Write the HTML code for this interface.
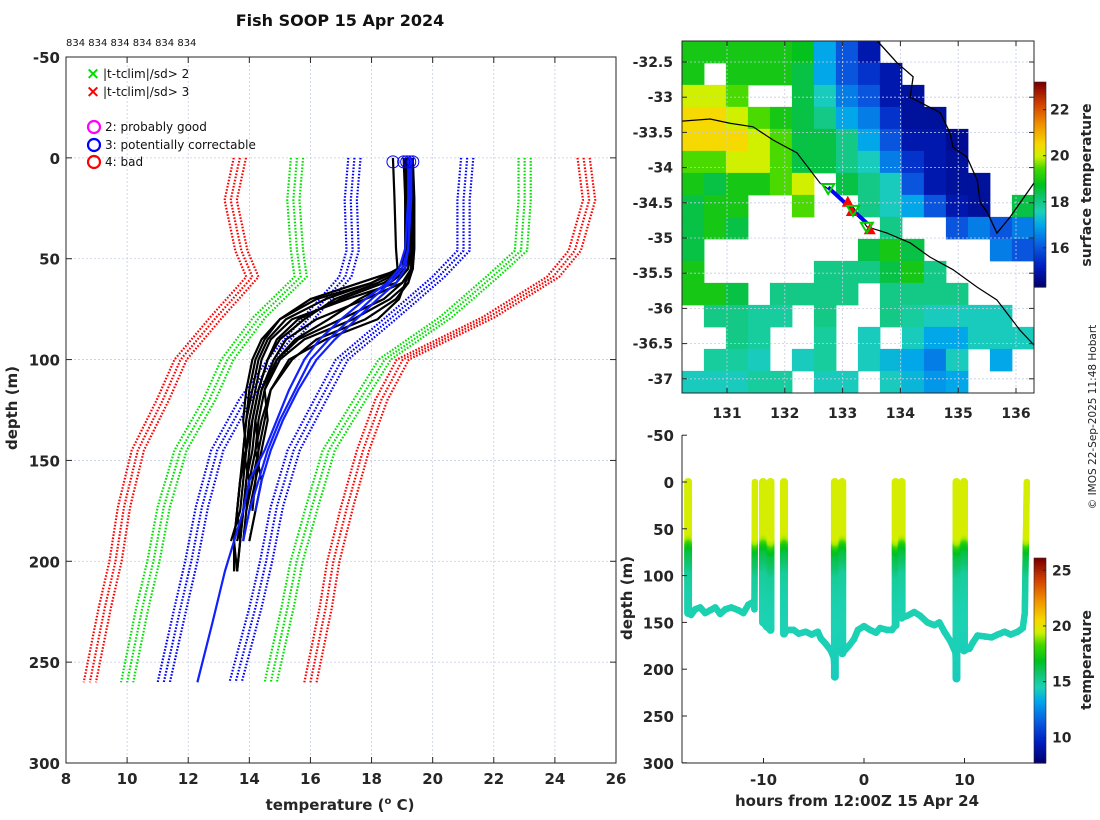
<!DOCTYPE html>
<html><head><meta charset="utf-8"><title>Fish SOOP 15 Apr 2024</title>
<style>
html,body{margin:0;padding:0;background:#fff;}
svg{display:block;font-family:"DejaVu Sans","Liberation Sans",sans-serif;}
.tick{font-size:15px;font-weight:bold;fill:#262626;}
.mtick{font-size:14px;font-weight:bold;fill:#262626;}
.lab{font-size:15px;font-weight:bold;fill:#262626;}
.leg{font-size:12px;fill:#111;}
</style></head>
<body>
<svg id="fig" width="1100" height="820" viewBox="0 0 1100 820" xmlns="http://www.w3.org/2000/svg">
<text x="340" y="26" text-anchor="middle" style="font-size:16px;font-weight:bold" fill="#111">Fish SOOP 15 Apr 2024</text>
<text x="66" y="46" style="font-size:10px" fill="#111">834 834 834 834 834 834</text>
<g id="left"></g>
<g id="map"></g>
<g id="ts"></g>
<text transform="translate(1096,417) rotate(-90)" text-anchor="middle" style="font-size:10.5px" fill="#222">© IMOS 22-Sep-2025 11:48 Hobart</text>
</svg>
<script>
const NS="http://www.w3.org/2000/svg";
// ---------- left plot data ----------
const climDepths=[0,21,46,59,79,100,120,145,173,200,223,260];
const climRedL=[13.69,13.39,13.74,14.10,12.92,11.75,11.17,10.35,9.9,9.62,9.27,8.78];
const climGreenL=[15.56,15.44,15.56,15.68,14.33,13.28,12.69,11.75,11.2,10.86,10.5,10.0];
const climBlueL=[17.44,17.32,17.38,17.14,15.97,14.80,13.86,12.95,12.45,12.1,11.75,11.2];
const climBlueR=[21.13,21.01,21.01,20.19,18.67,17.03,16.32,15.45,14.9,14.55,14.2,13.55];
const climGreenR=[23.01,23.01,22.89,21.95,20.43,18.43,17.61,16.6,16.05,15.55,15.25,14.7];
const climRedR=[24.94,25.12,24.65,23.94,21.83,19.02,18.32,17.72,17.2,16.75,16.5,16.0];
const climCopies=[-0.2,0,0.2];
const profDepths=[0,20,45,55,62,70,80,90,100,115,130,145,160,175,190,205,230,260];
const blackProfiles=[
[18.7,18.75,18.8,18.85,18.0,16.5,15.2,14.6,14.3,14.1,13.9,13.8,13.7,13.6,13.5,13.5],
[19.1,19.1,19.15,19.1,18.4,17.0,15.6,14.9,14.6,14.3,14.1,14.0,13.9,13.8,13.7,13.6],
[19.2,19.25,19.3,19.3,19.2,18.6,17.4,15.8,15.0,14.5,14.3,14.2,14.0,13.9,13.8],
[19.3,19.35,19.35,19.3,19.0,17.8,16.2,15.2,14.8,14.4,14.2,14.3,14.1,13.9],
[19.15,19.2,19.2,19.0,17.6,16.0,15.0,14.5,14.2,14.0,13.9,13.8,14.0,13.8,13.6],
[19.25,19.3,19.3,19.3,19.1,18.9,18.2,16.5,15.3,14.7,14.5,14.3,14.2,14.1],
[19.1,19.15,19.2,19.2,18.8,17.2,15.4,14.7,14.4,14.2,14.0,13.9,13.7,13.6,13.5,13.6],
[19.35,19.4,19.4,19.35,19.0,18.4,17.0,15.6,14.9,14.5,14.6,14.4,14.2,14.0],
[19.2,19.2,19.25,19.1,18.2,16.8,15.8,15.0,14.6,14.3,14.1,13.9,13.8,13.7,13.4],
[19.3,19.3,19.35,19.35,19.2,18.8,17.8,16.2,15.4,14.7,14.4,14.2,14.4,14.2,14.0],
[19.05,19.1,19.1,19.0,18.0,16.2,15.0,14.4,14.1,13.9,13.8,13.9,13.7,13.6,13.7,13.6],
[19.25,19.3,19.3,19.2,18.6,17.6,16.6,15.5,14.9,14.4,14.2,14.1,13.9,13.8,13.7]
];
const blueProfiles=[
[19.2,19.2,19.1,18.9,18.5,17.8,17.0,16.3,15.8,15.3,14.9,14.5,14.0,13.8,13.5,13.2,12.8,12.3],
[19.3,19.3,19.2,19.0,18.6,18.0,17.3,16.6,16.0,15.5,15.0,14.6,14.3,14.0,13.8],
[19.25,19.25,19.2,19.1,18.8,18.2,17.5,16.8,16.2,15.6,15.1,14.7,14.4,14.2]
];
const surfaceFlagTemps=[18.7,19.05,19.15,19.25,19.35];
const surfaceFlagDepth=2;
const tempTicks=[8,10,12,14,16,18,20,22,24,26];
const depthTicks=[-50,0,50,100,150,200,250,300];
// ---------- map data ----------
const sstGrid=[
[19,19,19,19,19,18.8,17,16,15,null,null,null,null,null,null,null],
[19,null,19,19,19,18.5,17,16,15.5,15,null,null,null,null,null,null],
[20,20,19.5,null,null,18.5,17.5,16.5,16,15,14.8,null,null,null,null,null],
[20.5,20.5,20,19.5,19,18.5,18,17,16.5,15.5,14.8,14.8,null,null,null,null],
[20.5,20.5,20.5,20,19.5,18.5,18.5,18,17,16,15,15,14.7,null,null,null],
[19.5,19.5,20,20,19.5,18.5,18.5,18,17.5,16.5,15.5,15,14.8,null,null,null],
[19,18.5,19,19,19.5,20,null,18.5,18,17.5,16,15,14.8,14.8,null,null],
[18.5,19,19,null,null,19.5,null,null,18,17.5,17,16,15,14.8,null,18.5],
[18.5,19,18.5,null,null,null,null,null,null,18,null,null,16,16.5,16,16.5],
[18.5,null,null,null,null,null,null,null,18.5,19,18.5,null,null,null,16.5,16],
[19,null,null,null,null,null,18,18,18,18.5,19,18,null,null,null,null],
[19,19,18.5,null,18,18,18,18,null,18,18,18,18,null,null,null],
[null,18,18,17.8,17.8,null,18,null,null,18,17.8,17.5,17.5,17.5,17.5,null],
[null,null,18,17.8,null,null,17.8,null,17.5,null,17.5,17,17,17.5,17.5,17.5],
[null,17.8,17.8,17.5,null,17.5,17.8,null,17.5,17.2,17,16.5,17.5,null,17,null],
[17.5,17.5,17.5,17.8,17.8,null,17.5,17.5,null,17.5,17.2,16.8,17,null,null,null]
];
const gridLon0=130.22, gridLat0=-32.2, gridStepLon=0.3806, gridStepLat=-0.3125;
const coastLon=[133.60,133.94,134.22,134.17,134.69,134.86,134.91,135.15,135.33,135.38,135.50,135.67,135.90,136.31];
const coastLat=[-32.20,-32.51,-32.71,-33.0,-33.22,-33.51,-33.71,-33.85,-34.18,-34.50,-34.63,-34.93,-34.70,-34.22];
const isoLon=[130.22,130.71,131.05,131.45,131.80,132.21,132.61,133.18,133.42,133.77,134.17,134.51,134.91,135.33,135.67,136.07,136.31];
const isoLat=[-33.34,-33.31,-33.37,-33.42,-33.61,-33.79,-34.22,-34.56,-34.84,-34.93,-35.07,-35.27,-35.45,-35.70,-35.88,-36.31,-36.52];
const trackLon=[132.75,133.42];
const trackLat=[-34.28,-34.79];
const redTriLon=[133.09,133.16,133.47];
const redTriLat=[-34.50,-34.63,-34.89];
const greenTriLon=[132.75,133.18,133.42];
const greenTriLat=[-34.29,-34.60,-34.84];
const latTicks=[-32.5,-33,-33.5,-34,-34.5,-35,-35.5,-36,-36.5,-37];
const lonTicks=[131,132,133,134,135,136];
const sstCbTicks=[16,18,20,22];
const sstCbMin=14.3, sstCbMax=23.2;
// ---------- time series data ----------
const tsSegTimes=[
[-17.5,-17.5,-17.2,-16.8,-16.3,-15.8,-15.3,-14.8,-14.3,-13.8,-13.2,-12.5,-12,-11.5,-11,-10.9,-10.85],
[-10.05,-10.05,-9.7,-9.3,-9.3],
[-7.96,-7.96,-7.6,-7,-6.5,-5.8,-5.2,-4.6,-4.3,-3.8,-3.3,-3.0,-2.9,-2.9],
[-2.16,-2.16,-1.5,-1,-0.6,0,0.6,1.2,1.6,2.3,2.8,3.15,3.15],
[3.75,3.75,4.3,5,5.6,6.3,7,7.5,8,8.6,9.1,9.2,9.2],
[9.95,9.95,10.5,10.8,11.3,12,12.7,13.3,14,14.6,15.3,15.8,16,16.2]
];
const tsSegDepths=[
[0,140,142,136,134,140,137,134,141,136,134,137,140,131,128,136,0],
[0,150,155,158,0],
[0,162,158,158,162,160,163,160,167,173,180,188,208,0],
[0,183,175,168,158,154,158,161,156,158,158,153,0],
[0,145,143,139,143,150,153,150,160,170,182,210,0],
[0,180,178,172,164,165,166,163,160,163,160,156,140,0]
];
const tempProfDepth=[0,58,64,70,78,88,100,130,215];
const tempProfTemp=[19.6,19.6,19.1,17.4,16.4,15.9,15.0,14.6,14.3];
const tsTimeTicks=[-10,0,10];
const tsDepthTicks=[-50,0,50,100,150,200,250,300];
const tsCbTicks=[10,15,20,25];
const tsCbMin=7.7, tsCbMax=26.1;

// ---------- helpers ----------
function el(tag,attrs,parent){const e=document.createElementNS(NS,tag);for(const k in attrs)e.setAttribute(k,attrs[k]);parent.appendChild(e);return e;}
function txt(s,attrs,parent){const e=el('text',attrs,parent);e.textContent=s;return e;}
const cmapStops=[[0,[0,0,112]],[0.1,[0,30,190]],[0.2,[10,90,225]],[0.3,[0,165,235]],[0.37,[28,210,180]],[0.44,[16,196,110]],[0.5,[0,192,32]],[0.58,[64,216,0]],[0.64,[208,240,0]],[0.7,[248,216,0]],[0.8,[240,144,0]],[0.9,[208,64,0]],[1,[128,0,0]]];
function cmap(f){f=Math.max(0,Math.min(1,f));for(let i=1;i<cmapStops.length;i++){if(f<=cmapStops[i][0]){const a=cmapStops[i-1],b=cmapStops[i];const t=(f-a[0])/(b[0]-a[0]);const c=a[1].map((v,j)=>Math.round(v+(b[1][j]-v)*t));return `rgb(${c[0]},${c[1]},${c[2]})`;}}return 'rgb(128,0,0)';}
function interp(xs,ys,x){if(x<=xs[0])return ys[0];for(let i=1;i<xs.length;i++){if(x<=xs[i]){const t=(x-xs[i-1])/(xs[i]-xs[i-1]);return ys[i-1]+(ys[i]-ys[i-1])*t;}}return ys[ys.length-1];}

// ---------- left plot ----------
(function(){
const g=document.getElementById('left');
const X0=66,X1=616,Y0=57,Y1=763;
const xS=t=>X0+(t-8)*(X1-X0)/18;
const yS=d=>Y0+(d+50)*(Y1-Y0)/350;
tempTicks.forEach(t=>{const l=el('line',{x1:xS(t),x2:xS(t),y1:Y0,y2:Y1,stroke:'#c4cce4','stroke-width':0.8,'stroke-dasharray':'2 2'},g);});
depthTicks.forEach(d=>{const l=el('line',{x1:X0,x2:X1,y1:yS(d),y2:yS(d),stroke:'#c4cce4','stroke-width':0.8,'stroke-dasharray':'2 2'},g);});
const clims=[[climRedL,'#ff0000','clim-minus-3sd'],[climGreenL,'#00e000','clim-minus-2sd'],[climBlueL,'#0000ff','clim-minus-1sd'],[climBlueR,'#0000ff','clim-plus-1sd'],[climGreenR,'#00e000','clim-plus-2sd'],[climRedR,'#ff0000','clim-plus-3sd']];
clims.forEach(c=>{climCopies.forEach(o=>{const pts=climDepths.map((d,i)=>xS(c[0][i]+o)+','+yS(d)).join(' ');const p=el('polyline',{points:pts,fill:'none',stroke:c[1],'stroke-width':2.2,'stroke-dasharray':'1.6 1.6','stroke-linejoin':'round'},g);});});
blackProfiles.forEach(pr=>{const pts=pr.map((t,i)=>xS(t)+','+yS(profDepths[i])).join(' ');const p=el('polyline',{points:pts,fill:'none',stroke:'#000','stroke-width':2.2,'stroke-linejoin':'round'},g);});
blueProfiles.forEach(pr=>{const pts=pr.map((t,i)=>xS(t)+','+yS(profDepths[i])).join(' ');const p=el('polyline',{points:pts,fill:'none',stroke:'#1020ff','stroke-width':2.2,'stroke-linejoin':'round'},g);});
surfaceFlagTemps.forEach(t=>{const c=el('circle',{cx:xS(t),cy:yS(surfaceFlagDepth),r:6,fill:'none',stroke:'#0000ff','stroke-width':1},g);});
const box=el('rect',{x:X0,y:Y0,width:X1-X0,height:Y1-Y0,fill:'none',stroke:'#262626','stroke-width':1},g);

tempTicks.forEach(t=>{el('line',{x1:xS(t),x2:xS(t),y1:Y1,y2:Y1-6,stroke:'#262626'},g);el('line',{x1:xS(t),x2:xS(t),y1:Y0,y2:Y0+6,stroke:'#262626'},g);const s=txt(t,{x:xS(t),y:Y1+21,'text-anchor':'middle',class:'tick'},g);});
depthTicks.forEach(d=>{el('line',{x1:X0,x2:X0+6,y1:yS(d),y2:yS(d),stroke:'#262626'},g);el('line',{x1:X1,x2:X1-6,y1:yS(d),y2:yS(d),stroke:'#262626'},g);const s=txt(d,{x:X0-6,y:yS(d)+6,'text-anchor':'end',class:'tick'},g);});
const xl=txt('',{x:340,y:810,'text-anchor':'middle',class:'lab'},g);
xl.innerHTML='temperature (<tspan dy="-6" style="font-size:10px">o</tspan><tspan dy="6"> C)</tspan>';
const yl=txt('depth (m)',{transform:'translate(17,408) rotate(-90)','text-anchor':'middle',class:'lab'},g);
const lg=el('g',{},g);
[['#00e000','|t-tclim|/sd> 2',74],['#ff0000','|t-tclim|/sd> 3',92]].forEach(e=>{const m=txt('×',{x:93,y:e[2]+5,'text-anchor':'middle',style:'font-size:17px;font-weight:bold',fill:e[0]},lg);const s=txt(e[1],{x:103,y:e[2]+4,class:'leg'},lg);});
[['#ff00ff','2: probably good',127],['#0000ff','3: potentially correctable',145],['#ff0000','4: bad',162]].forEach(e=>{const c=el('circle',{cx:94,cy:e[2],r:6,fill:'none',stroke:e[0],'stroke-width':2.2},lg);const s=txt(e[1],{x:105,y:e[2]+4,class:'leg'},lg);});
})();

// ---------- map ----------
(function(){
const g=document.getElementById('map');
const X0=682,X1=1034,Y0=41,Y1=393;
const xS=lon=>727+(lon-131)*57.8;
const yS=lat=>62+(-32.5-lat)*70.4;
const cp=el('clipPath',{id:'mapclip'},g);el('rect',{x:X0,y:Y0,width:X1-X0,height:Y1-Y0},cp);
const inner=el('g',{'clip-path':'url(#mapclip)'},g);
sstGrid.forEach((row,r)=>row.forEach((v,c)=>{if(v===null)return;const x0=xS(gridLon0+c*gridStepLon),x1=xS(gridLon0+(c+1)*gridStepLon),y0=yS(gridLat0+r*gridStepLat),y1=yS(gridLat0+(r+1)*gridStepLat);const rc=el('rect',{x:x0,y:y0,width:x1-x0+0.5,height:y1-y0+0.5,fill:cmap((v-sstCbMin)/(sstCbMax-sstCbMin))},inner);}));
lonTicks.forEach(l=>{el('line',{x1:xS(l),x2:xS(l),y1:Y0,y2:Y1,stroke:'#c4cce4','stroke-width':0.8,'stroke-dasharray':'2 2'},inner);});
latTicks.forEach(l=>{el('line',{x1:X0,x2:X1,y1:yS(l),y2:yS(l),stroke:'#c4cce4','stroke-width':0.8,'stroke-dasharray':'2 2'},inner);});
const co=el('polyline',{points:coastLon.map((l,i)=>xS(l)+','+yS(coastLat[i])).join(' '),fill:'none',stroke:'#000','stroke-width':1.3},inner);
const iso=el('polyline',{points:isoLon.map((l,i)=>xS(l)+','+yS(isoLat[i])).join(' '),fill:'none',stroke:'#000','stroke-width':1.2},inner);
const tr=el('polyline',{points:trackLon.map((l,i)=>xS(l)+','+yS(trackLat[i])).join(' '),fill:'none',stroke:'#0000ff','stroke-width':4},inner);
redTriLon.forEach((l,i)=>{const x=xS(l),y=yS(redTriLat[i]);const t=el('polygon',{points:`${x},${y-7} ${x-6},${y+4} ${x+6},${y+4}`,fill:'#ff0000'},inner);});
greenTriLon.forEach((l,i)=>{const x=xS(l),y=yS(greenTriLat[i]);const t=el('polygon',{points:`${x-6},${y-4} ${x+6},${y-4} ${x},${y+6}`,fill:'none',stroke:'#00d000','stroke-width':2},inner);});
const fr=el('rect',{x:X0,y:Y0,width:X1-X0,height:Y1-Y0,fill:'none',stroke:'#262626'},g);
latTicks.forEach(l=>{el('line',{x1:X0,x2:X0+5,y1:yS(l),y2:yS(l),stroke:'#262626'},g);el('line',{x1:X1,x2:X1-5,y1:yS(l),y2:yS(l),stroke:'#262626'},g);const s=txt(l,{x:673,y:yS(l)+5,'text-anchor':'end',class:'mtick'},g);});
lonTicks.forEach(l=>{el('line',{x1:xS(l),x2:xS(l),y1:Y1,y2:Y1-5,stroke:'#262626'},g);el('line',{x1:xS(l),x2:xS(l),y1:Y0,y2:Y0+5,stroke:'#262626'},g);const s=txt(l,{x:xS(l),y:418,'text-anchor':'middle',class:'mtick'},g);});
const cb=el('g',{},g);
const cY=t=>287-(t-sstCbMin)*(287-82)/(sstCbMax-sstCbMin);
for(let i=0;i<100;i++){const t0=sstCbMin+i*(sstCbMax-sstCbMin)/100,t1=sstCbMin+(i+1)*(sstCbMax-sstCbMin)/100;el('rect',{x:1034,y:cY(t1),width:12,height:cY(t0)-cY(t1)+0.6,fill:cmap(i/99)},cb);}
el('rect',{x:1034,y:82,width:12,height:205,fill:'none',stroke:'#262626','stroke-width':0.6},cb);
sstCbTicks.forEach(t=>{el('line',{x1:1043,x2:1046,y1:cY(t),y2:cY(t),stroke:'#262626'},cb);const s=txt(t,{x:1050,y:cY(t)+5,class:'mtick'},cb);});
const lab=txt('surface temperature',{transform:'translate(1091,185) rotate(-90)','text-anchor':'middle',class:'mtick'},g);
})();

// ---------- time series ----------
(function(){
const g=document.getElementById('ts');
const X0=682,X1=1034,Y0=435,Y1=763;
const xS=t=>864+t*10.05;
const yS=d=>482+d*0.936;
const tempAt=d=>interp(tempProfDepth,tempProfTemp,d);
tsSegTimes.forEach((ts,si)=>{const ds=tsSegDepths[si];for(let i=1;i<ts.length;i++){const xa=xS(ts[i-1]),ya=yS(ds[i-1]),xb=xS(ts[i]),yb=yS(ds[i]);const n=Math.max(1,Math.ceil(Math.hypot(xb-xa,yb-ya)/1.5));const vert=Math.abs(xb-xa)<0.5;for(let k=0;k<=n;k++){const f=k/n;const d=ds[i-1]+(ds[i]-ds[i-1])*f;const c=el('circle',{cx:xa+(xb-xa)*f,cy:ya+(yb-ya)*f,r:vert?4:3.3,fill:cmap((tempAt(d)-tsCbMin)/(tsCbMax-tsCbMin))},g);}}});
el('line',{x1:X0,x2:X0,y1:Y0,y2:Y1,stroke:'#262626'},g);
el('line',{x1:X0,x2:X1,y1:Y1,y2:Y1,stroke:'#262626'},g);
tsDepthTicks.forEach(d=>{el('line',{x1:X0,x2:X0+5,y1:yS(d),y2:yS(d),stroke:'#262626'},g);const s=txt(d,{x:674,y:yS(d)+6,'text-anchor':'end',class:'tick'},g);});
tsTimeTicks.forEach(t=>{el('line',{x1:xS(t),x2:xS(t),y1:Y1,y2:Y1-5,stroke:'#262626'},g);const s=txt(t,{x:xS(t),y:785,'text-anchor':'middle',class:'tick'},g);});
const xl=txt('hours from 12:00Z 15 Apr 24',{x:857,y:806,'text-anchor':'middle',class:'lab'},g);
const yl=txt('depth (m)',{transform:'translate(632,598) rotate(-90)','text-anchor':'middle',class:'lab'},g);
const cb=el('g',{},g);
const cY=t=>763-(t-tsCbMin)*(763-558)/(tsCbMax-tsCbMin);
for(let i=0;i<100;i++){const t0=tsCbMin+i*(tsCbMax-tsCbMin)/100,t1=tsCbMin+(i+1)*(tsCbMax-tsCbMin)/100;el('rect',{x:1034,y:cY(t1),width:12,height:cY(t0)-cY(t1)+0.6,fill:cmap(i/99)},cb);}
el('rect',{x:1034,y:558,width:12,height:205,fill:'none',stroke:'#262626','stroke-width':0.6},cb);
tsCbTicks.forEach(t=>{el('line',{x1:1043,x2:1046,y1:cY(t),y2:cY(t),stroke:'#262626'},cb);const s=txt(t,{x:1052,y:cY(t)+5,class:'mtick'},cb);});
const lab=txt('temperature',{transform:'translate(1091,660) rotate(-90)','text-anchor':'middle',class:'mtick'},g);
})();
</script>
</body></html>
